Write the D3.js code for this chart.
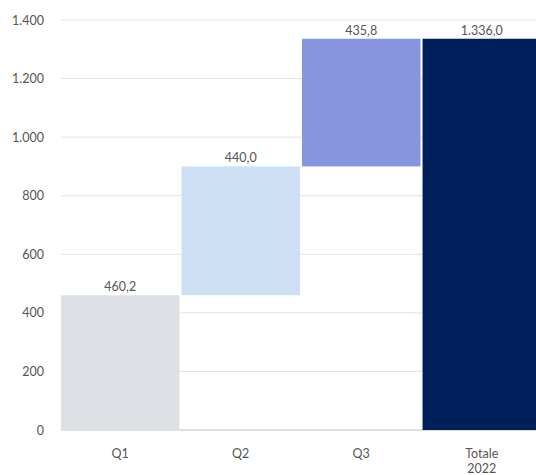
<!DOCTYPE html>
<html>
<head>
<meta charset="utf-8">
<script src="https://cdn.jsdelivr.net/npm/d3@7/dist/d3.min.js"></script>
<style>
  html, body { margin: 0; padding: 0; background: #fff; }
  svg text { font-family: "Lato", "Open Sans", sans-serif; fill: #555; }
</style>
</head>
<body>
<svg id="chart" width="536" height="475"></svg>
<script>
// Quarterly contributions building up to the 2022 total
const categories = ["Q1", "Q2", "Q3", "Totale 2022"];
const values = [460.2, 440.0, 435.8, 1336.0];
const isTotal = [false, false, false, true];
const barColors = ["#dde1e6", "#cddff4", "#8595e0", "#00205b"];
const yTicks = [0, 200, 400, 600, 800, 1000, 1200, 1400];

const it = d3.formatLocale({ decimal: ",", thousands: ".", grouping: [3], currency: ["€", ""] });
const fmtTick = it.format(",.0f");
const fmtVal = it.format(",.1f");

const svg = d3.select("#chart");
const plotLeft = 61, plotRight = 541, plotTop = 20, plotBottom = 430;

const x = d3.scaleBand().domain(categories).range([plotLeft, plotRight]).paddingInner(0.017).paddingOuter(0);
const y = d3.scaleLinear().domain([0, 1400]).range([plotBottom, plotTop]);

// waterfall steps: each quarter starts where the previous one ended
let run = 0;
const bars = categories.map((c, i) => {
  const start = isTotal[i] ? 0 : run;
  const end = isTotal[i] ? values[i] : run + values[i];
  if (!isTotal[i]) run = end;
  return { cat: c, start, end, value: values[i], color: barColors[i] };
});

// gridlines
svg.append("g")
  .selectAll("line")
  .data(yTicks)
  .join("line")
  .attr("x1", plotLeft).attr("x2", 536)
  .attr("y1", d => y(d)).attr("y2", d => y(d))
  .attr("stroke", d => d === 0 ? "#d6d6d6" : "#e2e2e2")
  .attr("stroke-width", d => d === 0 ? 1.5 : 1);

// y axis labels
const yAxis = d3.axisLeft(y).tickValues(yTicks).tickFormat(fmtTick).tickSize(0).tickPadding(0);
svg.append("g")
  .attr("transform", `translate(${plotLeft - 17},0)`)
  .call(yAxis)
  .call(g => g.select(".domain").remove())
  .selectAll("text")
  .attr("font-size", 12.5)
  .style("fill", "#555");

// bars
svg.append("g")
  .selectAll("rect")
  .data(bars)
  .join("rect")
  .attr("x", d => x(d.cat))
  .attr("width", x.bandwidth())
  .attr("y", d => y(d.end))
  .attr("height", d => y(d.start) - y(d.end))
  .attr("fill", d => d.color);

// value labels
svg.append("g")
  .selectAll("text")
  .data(bars)
  .join("text")
  .attr("x", d => x(d.cat) + x.bandwidth() / 2)
  .attr("y", d => y(d.end) - 4)
  .attr("text-anchor", "middle")
  .attr("font-size", 12.5)
  .text(d => fmtVal(d.value));

// category labels (wrapped on spaces)
const xl = svg.append("g")
  .selectAll("text")
  .data(categories)
  .join("text")
  .attr("x", d => x(d) + x.bandwidth() / 2)
  .attr("y", 458)
  .attr("text-anchor", "middle")
  .attr("font-size", 12.5);
xl.each(function(d) {
  const words = d.split(" ");
  const t = d3.select(this);
  words.forEach((w, i) => {
    t.append("tspan")
      .attr("x", x(d) + x.bandwidth() / 2)
      .attr("dy", i === 0 ? 0 : 15)
      .text(w);
  });
});
</script>
</body>
</html>
